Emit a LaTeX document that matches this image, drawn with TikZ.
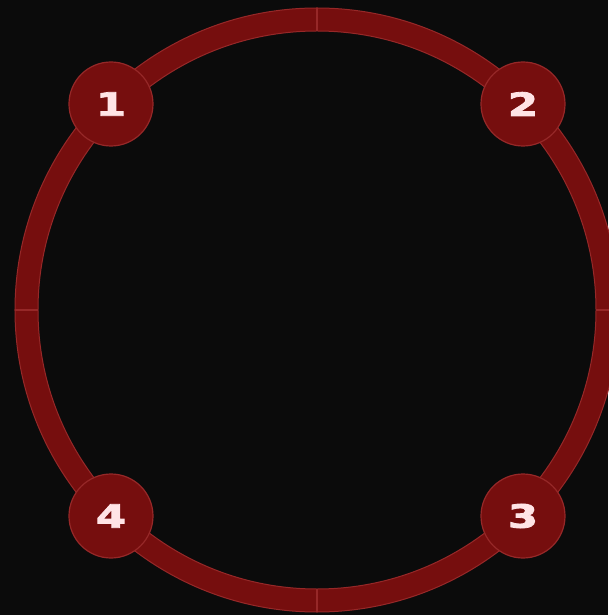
\documentclass[tikz,border=0pt]{standalone}
\usepackage{fontspec}
\usepackage{graphicx}
\newfontfamily\numfont[FakeBold=2.5]{DejaVu Sans Bold}
\usetikzlibrary{positioning}
\definecolor{BgDark}{RGB}{11,11,11}
\definecolor{RingRed}{RGB}{118,14,14}
\definecolor{RingEdge}{RGB}{150,40,40}
\definecolor{NumPink}{RGB}{255,228,230}

\begin{document}
\begin{tikzpicture}[
    x=1pt,y=1pt,
    stepnum/.style={circle,draw=RingEdge,line width=1.2pt,fill=RingRed,minimum size=84pt,inner sep=0pt,
        text=NumPink,font=\numfont\fontsize{32}{32}\selectfont},
    tick/.style={RingEdge,line width=1.6pt}
]
\fill[BgDark] (-317,-305) rectangle (291,310);
\useasboundingbox (-317,-305) rectangle (291,310);

% the ring
\draw[RingRed,line width=23pt] (0,0) circle (290.5);
\draw[RingEdge,line width=1pt] (0,0) circle (302);
\draw[RingEdge,line width=1pt] (0,0) circle (279);

% ticks at the quarter points
\foreach \a in {0,90,180,270}
    \draw[tick] (\a:279) -- (\a:302);

% numbered stations
\node[stepnum] (one) at (-206,206) {\bfseries\scalebox{1.35}[1]{1}};
\node[stepnum] (two) at (206,206) {\bfseries\scalebox{1.35}[1]{2}};
\node[stepnum] (three) at (206,-206) {\bfseries\scalebox{1.35}[1]{3}};
\node[stepnum] (four) at (-206,-206) {\bfseries\scalebox{1.35}[1]{4}};
\end{tikzpicture}
\end{document}
